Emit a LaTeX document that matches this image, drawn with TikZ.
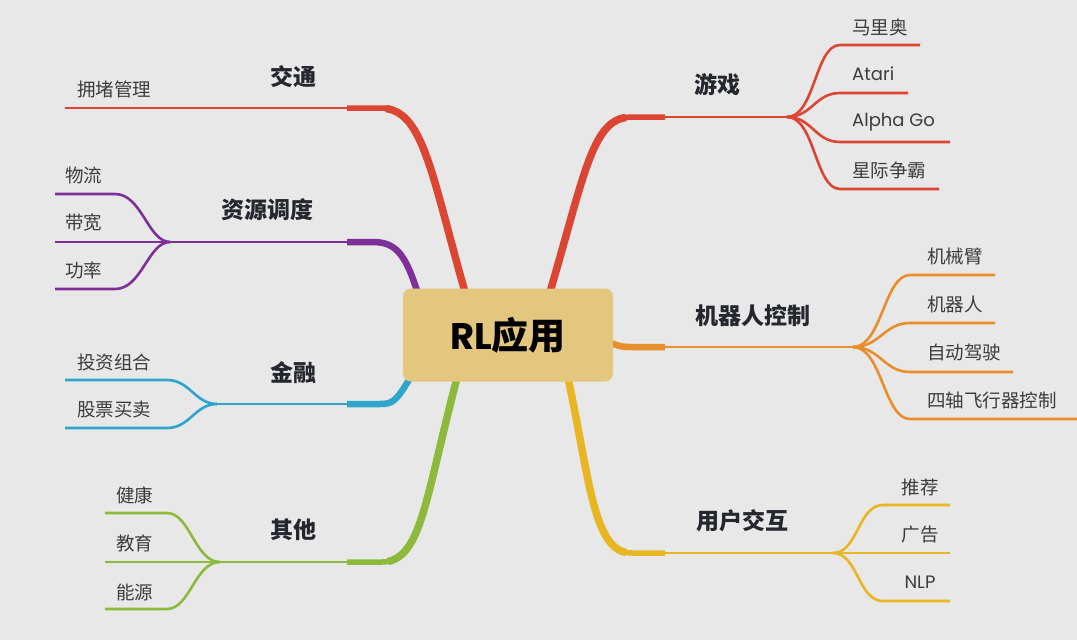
\documentclass[tikz,border=0pt]{standalone}
\usepackage{fontspec}
\setmainfont{Noto Sans CJK SC}
\newfontfamily\latinf{Poppins}
\usetikzlibrary{calc}
\definecolor{bg}{HTML}{E8E8E8}
\definecolor{cred}{HTML}{DB4531}
\definecolor{cpurple}{HTML}{7F2F9A}
\definecolor{ccyan}{HTML}{2EA6CC}
\definecolor{cgreen}{HTML}{8DBA3C}
\definecolor{corange}{HTML}{E88E2A}
\definecolor{cyellow}{HTML}{E8B623}
\definecolor{boxfill}{HTML}{E3C77F}
\definecolor{txtdark}{HTML}{25272E}
\definecolor{txtgray}{HTML}{3C3C3C}
\tikzset{
  trunk/.style={line width=7.5pt, line cap=butt},
  stub/.style={line width=5.5pt, line join=round},
  twig/.style={line width=2.6pt},
  rootbox/.style={fill=boxfill, rounded corners=8pt, minimum width=210pt, minimum height=93pt, inner sep=0pt,
     font=\bfseries\fontsize{37}{40}\selectfont, text=black},
  branchlbl/.style={font=\bfseries\fontsize{23}{26}\selectfont, text=txtdark, inner sep=0pt},
  leaflbl/.style={font=\fontsize{18.5}{20}\selectfont, text=txtgray, inner sep=0pt, anchor=west},
  latinlbl/.style={leaflbl, font=\latinf\fontsize{18}{20}\selectfont},
}
\begin{document}
\begin{tikzpicture}[x=1pt,y=-1pt]
\fill[bg] (0,0) rectangle (1077,640);
\useasboundingbox (0,0) rectangle (1077,640);

% ---------- trunk anchor coordinates ----------
\coordinate (jt0) at (465,292); \coordinate (jt1) at (382,108); \coordinate (jt2) at (347,108); \coordinate (jtB) at (65,108);
\coordinate (zy0) at (418,294); \coordinate (zy1) at (372,242); \coordinate (zy2) at (347,242); \coordinate (zyB) at (170,242);
\coordinate (jr0) at (410,378); \coordinate (jr1) at (380,404); \coordinate (jr2) at (347,404); \coordinate (jrB) at (217,404);
\coordinate (qt0) at (457,378); \coordinate (qt1) at (382,562); \coordinate (qt2) at (347,562); \coordinate (qtB) at (220,562);
\coordinate (yx0) at (550,292); \coordinate (yx1) at (632,117); \coordinate (yx2) at (665,117); \coordinate (yxB) at (787,117);
\coordinate (jq0) at (608,342); \coordinate (jq1) at (632,347); \coordinate (jq2) at (665,347); \coordinate (jqB) at (853,347);
\coordinate (yh0) at (568,378); \coordinate (yh1) at (632,553); \coordinate (yh2) at (665,553); \coordinate (yhB) at (833,553);

% ---------- trunks (thick curve running into the stub) ----------
\draw[trunk,cred] (jt0) .. controls (432,176) and (424,114) .. ($(jt1)+(4,0.5)$);
\draw[stub,cred] (jt0) .. controls (430,170) and (420,108) .. (jt1) -- (jt2);
\draw[twig,cred] (jt2) -- (jtB);

\draw[stub,cpurple,line width=6.5pt] (zy0) .. controls (405,252) and (395,242) .. (zy1) -- (zy2);
\draw[twig,cpurple] (zy2) -- (zyB);

\draw[stub,ccyan,line width=6.5pt] (jr0) .. controls (396,402) and (392,404) .. (jr1) -- (jr2);
\draw[twig,ccyan] (jr2) -- (jrB);

\draw[trunk,cgreen] (qt0) .. controls (426,496) and (422,554) .. ($(qt1)+(6,-0.5)$);
\draw[stub,cgreen] (qt0) .. controls (425,500) and (420,562) .. (qt1) -- (qt2);
\draw[twig,cgreen] (qt2) -- (qtB);

\draw[trunk,cred] (yx0) .. controls (584,176) and (592,122) .. ($(yx1)+(-6,0.5)$);
\draw[stub,cred] (yx0) .. controls (585,170) and (595,117) .. (yx1) -- (yx2);
\draw[twig,cred] (yx2) -- (yxB);

\draw[stub,corange,line width=6.5pt] (jq0) .. controls (622,347) .. (jq1) -- (jq2);
\draw[twig,corange] (jq2) -- (jqB);

\draw[trunk,cyellow] (yh0) .. controls (589,476) and (593,546) .. ($(yh1)+(-6,-0.5)$);
\draw[stub,cyellow] (yh0) .. controls (590,480) and (595,553) .. (yh1) -- (yh2);
\draw[twig,cyellow] (yh2) -- (yhB);

% ---------- root ----------
\node[rootbox] (root) at (508,335) {{\latinf RL}应用};

% ---------- branch labels ----------
\node[branchlbl] (jiaotong) at (293,77) {交通};
\node[branchlbl] (ziyuan) at (267,210) {资源调度};
\node[branchlbl] (jinrong) at (293,373) {金融};
\node[branchlbl] (qita) at (293,530) {其他};
\node[branchlbl] (youxi) at (717,85) {游戏};
\node[branchlbl] (jiqiren) at (753,316) {机器人控制};
\node[branchlbl] (yonghu) at (742,521) {用户交互};

% ---------- leaf coordinates and connectors ----------
% 资源调度
\coordinate (zyA1) at (115,194); \coordinate (zyE1) at (55,194);
\coordinate (zyE2) at (55,242);
\coordinate (zyA3) at (115,289); \coordinate (zyE3) at (55,289);
\draw[twig,cpurple] (zyB) .. controls (148,242) and (142,194) .. (zyA1) -- (zyE1);
\draw[twig,cpurple] (zyB) -- (zyE2);
\draw[twig,cpurple] (zyB) .. controls (148,242) and (142,289) .. (zyA3) -- (zyE3);
% 金融
\coordinate (jrA1) at (167,380); \coordinate (jrE1) at (65,380);
\coordinate (jrA2) at (167,428); \coordinate (jrE2) at (65,428);
\draw[twig,ccyan] (jrB) .. controls (195,404) and (190,380) .. (jrA1) -- (jrE1);
\draw[twig,ccyan] (jrB) .. controls (195,404) and (190,428) .. (jrA2) -- (jrE2);
% 其他
\coordinate (qtA1) at (167,513); \coordinate (qtE1) at (105,513);
\coordinate (qtE2) at (105,562);
\coordinate (qtA3) at (167,609); \coordinate (qtE3) at (105,609);
\draw[twig,cgreen] (qtB) .. controls (195,562) and (190,513) .. (qtA1) -- (qtE1);
\draw[twig,cgreen] (qtB) -- (qtE2);
\draw[twig,cgreen] (qtB) .. controls (195,562) and (190,609) .. (qtA3) -- (qtE3);
% 游戏
\coordinate (yxA1) at (840,45);  \coordinate (yxE1) at (920,45);
\coordinate (yxA2) at (840,93);  \coordinate (yxE2) at (908,93);
\coordinate (yxA3) at (840,142); \coordinate (yxE3) at (950,142);
\coordinate (yxA4) at (840,189); \coordinate (yxE4) at (939,189);
\draw[twig,cred] (yxB) .. controls (815,117) and (815,45) .. (yxA1) -- (yxE1);
\draw[twig,cred] (yxB) .. controls (812,117) and (815,93) .. (yxA2) -- (yxE2);
\draw[twig,cred] (yxB) .. controls (812,117) and (815,142) .. (yxA3) -- (yxE3);
\draw[twig,cred] (yxB) .. controls (815,117) and (815,189) .. (yxA4) -- (yxE4);
% 机器人控制
\coordinate (jqA1) at (910,275); \coordinate (jqE1) at (995,275);
\coordinate (jqA2) at (910,323); \coordinate (jqE2) at (995,323);
\coordinate (jqA3) at (910,372); \coordinate (jqE3) at (1013,372);
\coordinate (jqA4) at (910,419); \coordinate (jqE4) at (1077,419);
\draw[twig,corange] (jqB) .. controls (882,347) and (884,275) .. (jqA1) -- (jqE1);
\draw[twig,corange] (jqB) .. controls (880,347) and (884,323) .. (jqA2) -- (jqE2);
\draw[twig,corange] (jqB) .. controls (880,347) and (884,372) .. (jqA3) -- (jqE3);
\draw[twig,corange] (jqB) .. controls (882,347) and (884,419) .. (jqA4) -- (jqE4);
% 用户交互
\coordinate (yhA1) at (883,505); \coordinate (yhE1) at (950,505);
\coordinate (yhE2) at (950,553);
\coordinate (yhA3) at (883,601); \coordinate (yhE3) at (950,601);
\draw[twig,cyellow] (yhB) .. controls (858,553) and (858,505) .. (yhA1) -- (yhE1);
\draw[twig,cyellow] (yhB) -- (yhE2);
\draw[twig,cyellow] (yhB) .. controls (858,553) and (858,601) .. (yhA3) -- (yhE3);

% ---------- leaf labels ----------
\node[leaflbl] (yongdu) at (77,89) {拥堵管理};
\node[leaflbl] (wuliu) at (65,175) {物流};
\node[leaflbl] (daikuan) at (65,223) {带宽};
\node[leaflbl] (gonglv) at (65,270) {功率};
\node[leaflbl] (touzi) at (77,362) {投资组合};
\node[leaflbl] (gupiao) at (77,410) {股票买卖};
\node[leaflbl] (jiankang) at (116,495) {健康};
\node[leaflbl] (jiaoyu) at (116,543) {教育};
\node[leaflbl] (nengyuan) at (116,592) {能源};
\node[leaflbl] (mario) at (852,27) {马里奥};
\node[latinlbl] (atari) at (852,74) {Atari};
\node[latinlbl] (alphago) at (852,122) {Alpha Go};
\node[leaflbl] (xingji) at (852,170) {星际争霸};
\node[leaflbl] (jixiebi) at (927,256) {机械臂};
\node[leaflbl] (jqr) at (927,304) {机器人};
\node[leaflbl] (zidong) at (927,352) {自动驾驶};
\node[leaflbl] (sizhou) at (927,400) {四轴飞行器控制};
\node[leaflbl,anchor=center] (tuijian) at (920,487) {推荐};
\node[leaflbl,anchor=center] (guanggao) at (920,535) {广告};
\node[latinlbl,anchor=center] (nlp) at (920,582) {NLP};
\end{tikzpicture}
\end{document}
